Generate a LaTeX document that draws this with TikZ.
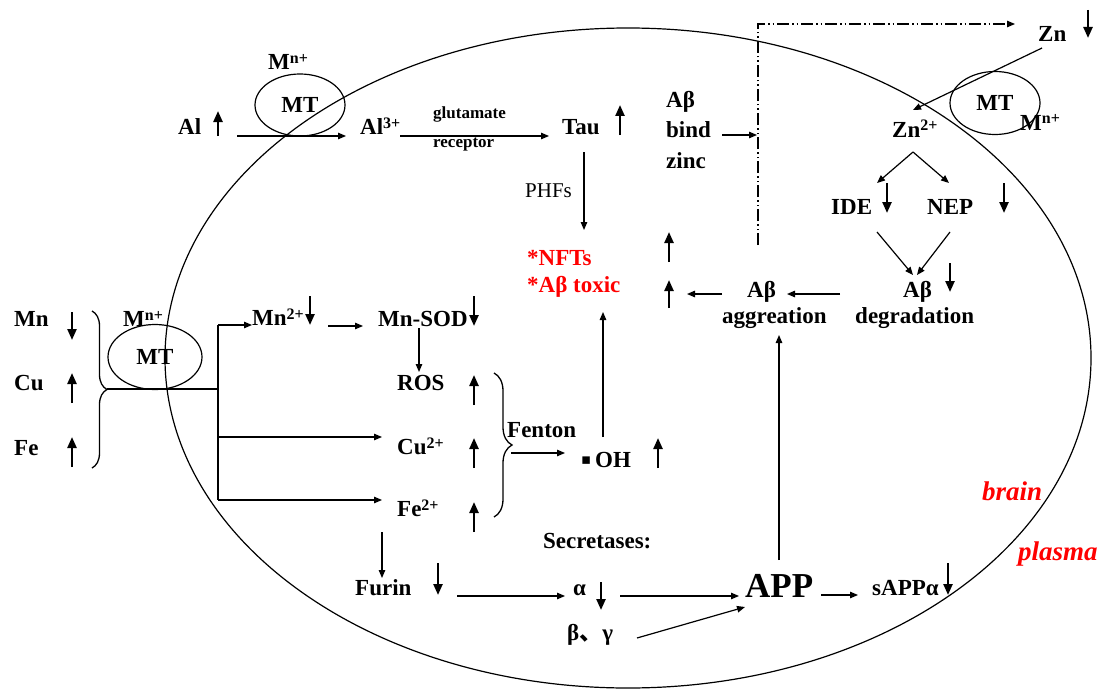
\documentclass[tikz,border=0pt]{standalone}
\usepackage{fontspec}
\setmainfont{Liberation Serif}
\newfontfamily\cjkf{Noto Sans CJK SC}
\newfontfamily\djv{DejaVu Sans}
\usetikzlibrary{arrows.meta,decorations.pathreplacing,shapes.geometric}
\definecolor{rd}{RGB}{255,0,0}
\newcommand\spp[1]{\raisebox{6pt}{\fontsize{16}{16}\selectfont #1}}
\tikzset{
  lbl/.style={inner sep=0pt, anchor=base west, font=\fontsize{23}{27}\selectfont\bfseries},
  sm/.style={lbl, font=\fontsize{17}{20}\selectfont\bfseries},
  reg/.style={lbl, font=\fontsize{21}{25}\selectfont},
  big/.style={lbl, font=\fontsize{35}{40}\selectfont\bfseries},
  redl/.style={lbl, text=rd},
  redi/.style={lbl, text=rd, font=\fontsize{27}{31}\selectfont\bfseries\itshape},
  mtell/.style={draw, ellipse, line width=1.2pt, minimum width=90pt, minimum height=62pt, inner sep=0pt, font=\fontsize{23}{27}\selectfont\bfseries},
  arr/.style={line width=1.2pt, -{Triangle[length=8pt,width=6.5pt]}},
  ln/.style={line width=1.2pt},
  ind/.style={line width=2.3pt, -{Triangle[length=11pt,width=9pt]}},
  dd/.style={line width=1.2pt, dash pattern=on 12pt off 3pt on 1.5pt off 3pt on 1.5pt off 3pt, -{Triangle[length=8pt,width=6.5pt]}},
  brc/.style={line width=1.3pt, decorate, decoration={brace, amplitude=15pt}},
}
\newcommand\indic[4]{\coordinate (#1a) at (#2,#3); \coordinate (#1b) at (#2,#4); \draw[ind] (#1a) -- (#1b);}
\begin{document}
\begin{tikzpicture}[x=1pt,y=-1pt]
\useasboundingbox (0,0) rectangle (1115,690);
\draw[line width=1.2pt] (628,358) ellipse [x radius=463pt, y radius=330pt];
% top-left
\node[lbl] (mnA) at (268,70) {M\spp{n+}};
\node[mtell] (mtA) at (300,105) {MT};
\node[lbl] (al) at (178,135) {Al};
\indic{ual}{218}{136}{111}
\node[lbl] (al3) at (360,135) {Al\spp{3+}};
\coordinate (alS) at (237,136); \coordinate (alE) at (346,136);
\draw[arr] (alS) -- (alE);
\coordinate (gluS) at (400,136); \coordinate (gluE) at (549,136);
\draw[arr] (gluS) -- (gluE);
\node[sm] (glu) at (433,118) {glutamate};
\node[sm] (rec) at (433,147) {receptor};
\node[lbl] (tau) at (562,135) {Tau};
\indic{utau}{620}{135}{105}
\node[lbl] (abz1) at (666,107) {Aβ};
\node[lbl] (abz2) at (666,137) {bind};
\node[lbl] (abz3) at (666,168) {zinc};
\coordinate (bzS) at (722,135); \coordinate (bzE) at (757,135);
\draw[arr] (bzS) -- (bzE);
\node[reg] (phf) at (525,197) {PHFs};
\coordinate (tauD) at (584,152); \coordinate (nftT) at (584,230);
\draw[arr] (tauD) -- (nftT);
\node[redl] (nft) at (527,265) {*NFTs};
\node[redl] (abt) at (527,292) {*Aβ toxic};
\indic{un1}{669}{262}{232}
\indic{un2}{669}{308}{280}
% dash-dot
\coordinate (ddB) at (758,245); \coordinate (ddC) at (758,24); \coordinate (ddE) at (1015,24);
\draw[dd] (ddB) -- (ddC) -- (ddE);
% zinc
\node[lbl] (zn) at (1038,42) {Zn};
\indic{dzn}{1088}{10}{38}
\node[lbl] (zn2) at (892,137) {Zn\spp{2+}};
\node[mtell, minimum height=63pt] (mtB) at (995,103) {MT};
\node[lbl] (mnB) at (1020,130) {M\spp{n+}};
\coordinate (znS) at (1042,48); \coordinate (znE) at (913,110);
\draw[arr] (znS) -- (znE);
\coordinate (zap) at (913,152); \coordinate (zl) at (877,183); \coordinate (zr) at (949,183);
\draw[arr] (zap) -- (zl);
\draw[arr] (zap) -- (zr);
\node[lbl] (ide) at (831,214) {IDE};
\indic{dide}{887}{183}{213}
\node[lbl] (nep) at (927,214) {NEP};
\indic{dnep}{1004}{183}{213}
\coordinate (ideS) at (877,232); \coordinate (nepS) at (950,232);
\coordinate (adT1) at (913,275); \coordinate (adT2) at (917,275);
\draw[arr] (ideS) -- (adT1);
\draw[arr] (nepS) -- (adT2);
\node[lbl] (abd) at (903,297) {Aβ};
\node[lbl] (deg) at (855,323) {degradation};
\indic{dabd}{950}{263}{292}
\node[lbl] (aba) at (747,297) {Aβ};
\node[lbl] (agg) at (722,323) {aggreation};
\coordinate (dgL) at (840,294); \coordinate (agR) at (787,294);
\draw[arr] (dgL) -- (agR);
\coordinate (agL) at (722,294); \coordinate (upR) at (687,294);
\draw[arr] (agL) -- (upR);
% left metals
\node[lbl] (mn) at (14,326) {Mn};
\indic{dmn}{72}{312}{340}
\node[lbl] (cu) at (14,390) {Cu};
\indic{ucu}{72}{403}{373}
\node[lbl] (fe) at (14,455) {Fe};
\indic{ufe}{72}{467}{437}
\coordinate (brT) at (92,311); \coordinate (brB) at (92,468);
\draw[brc] (brT) -- (brB);
\node[mtell, minimum width=94pt, minimum height=65pt] (mtC) at (155,357) {MT};
\node[lbl] (mnC) at (123,326) {M\spp{n+}};
\coordinate (tip) at (107,389); \coordinate (jM) at (218,389);
\coordinate (jT) at (218,325); \coordinate (jB) at (218,500);
\draw[ln] (tip) -- (jM);
\draw[ln] (jT) -- (jB);
\coordinate (mn2E) at (252,325);
\draw[arr] (jT) -- (mn2E);
\node[lbl] (mn2) at (252,325) {Mn\spp{2+}};
\indic{dmn2}{310}{296}{325}
\coordinate (mnsS) at (328,326); \coordinate (mnsE) at (363,326);
\draw[arr] (mnsS) -- (mnsE);
\node[lbl] (mnsod) at (378,326) {Mn-SOD};
\indic{dsod}{474}{296}{326}
\coordinate (rosS) at (419,328); \coordinate (rosE) at (419,372);
\draw[arr] (rosS) -- (rosE);
\node[lbl] (ros) at (397,390) {ROS};
\indic{uros}{474}{405}{375}
\coordinate (cuJ) at (218,437); \coordinate (cuE) at (382,437);
\draw[arr] (cuJ) -- (cuE);
\node[lbl] (cu2) at (397,454) {Cu\spp{2+}};
\indic{ucu2}{474}{468}{438}
\coordinate (feE) at (382,500);
\draw[arr] (jB) -- (feE);
\node[lbl] (fe2) at (397,516) {Fe\spp{2+}};
\indic{ufe2}{474}{532}{502}
\coordinate (fbT) at (494,373); \coordinate (fbB) at (494,517);
\draw[brc, decoration={brace, amplitude=18pt}] (fbT) -- (fbB);
\node[lbl] (fen) at (507,437) {Fenton};
\coordinate (fnS) at (511,453); \coordinate (fnE) at (565,453);
\draw[arr] (fnS) -- (fnE);
\node[lbl] (oh) at (581,467) {\raisebox{3pt}{\djv\fontsize{15}{15}\selectfont ▪}\,OH};
\indic{uoh}{658}{468}{438}
\coordinate (ohT) at (603,437); \coordinate (abtB) at (603,312);
\draw[arr] (ohT) -- (abtB);
% bottom
\coordinate (feD) at (382,532); \coordinate (fuT) at (382,578);
\draw[arr] (feD) -- (fuT);
\node[lbl] (furin) at (355,595) {Furin};
\indic{dfur}{438}{563}{595}
\node[lbl] (sec) at (543,548) {Secretases:};
\coordinate (fuR) at (457,596); \coordinate (alL) at (565,596);
\draw[arr] (fuR) -- (alL);
\node[lbl] (alpha) at (573,595) {α};
\indic{dalp}{601}{582}{610}
\coordinate (alR) at (620,596); \coordinate (appL) at (739,596);
\draw[arr] (alR) -- (appL);
\node[big] (app) at (745,597) {APP};
\node[lbl] (bg) at (567,640) {β{\cjkf 、}γ};
\coordinate (bgR) at (637,638); \coordinate (appBL) at (745,607);
\draw[arr] (bgR) -- (appBL);
\coordinate (appT) at (779,560); \coordinate (aggB) at (779,335);
\draw[arr] (appT) -- (aggB);
\coordinate (apR) at (821,595); \coordinate (sapL) at (858,595);
\draw[arr] (apR) -- (sapL);
\node[lbl] (sapp) at (872,595) {sAPPα};
\indic{dsap}{948}{563}{595}
\node[redi] (brain) at (982,500) {brain};
\node[redi] (plasma) at (1018,560) {plasma};
\end{tikzpicture}
\end{document}
